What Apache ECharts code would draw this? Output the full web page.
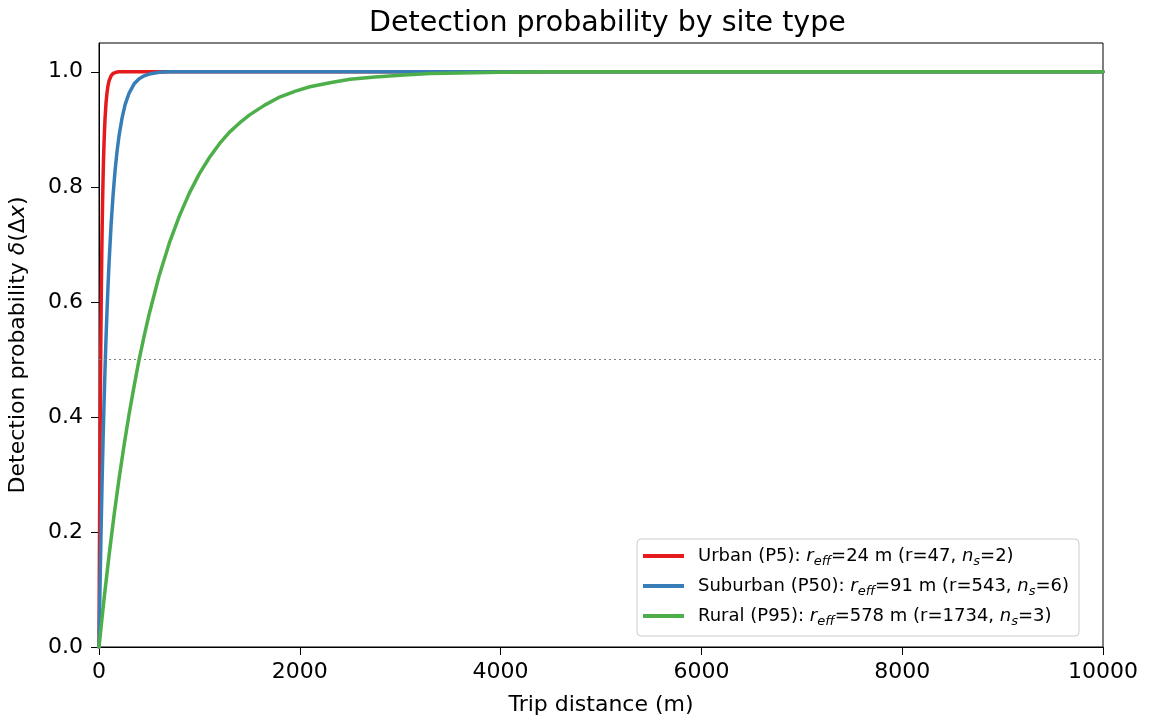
<!DOCTYPE html>
<html lang="en">
<head>
    <meta charset="UTF-8">
    <title>Detection probability by site type</title>
    <script src="https://cdn.jsdelivr.net/npm/echarts@6/dist/echarts.min.js"></script>
    <style>
        html, body { margin: 0; padding: 0; background: #fff; }
        #chart1 { width: 1149px; height: 722px; }
    </style>
</head>
<body>
<div id="chart1"></div>

<script>
    // values
    var urbanDist = [0, 3, 6, 9, 12, 15, 18, 21, 24, 28, 32, 36, 40, 45, 50, 55, 60, 70, 80, 90, 100, 120, 140, 170, 200, 10000];
    var urbanProb = [0, 0.118, 0.221, 0.313, 0.393, 0.465, 0.528, 0.583, 0.632, 0.689, 0.736, 0.777, 0.811, 0.847, 0.875, 0.899, 0.918, 0.946, 0.964, 0.976, 0.984, 0.993, 0.997, 0.999, 1.0, 1.0];

    var suburbanDist = [0, 10, 20, 30, 40, 50, 60, 70, 80, 90, 100, 120, 140, 160, 180, 200, 230, 260, 300, 350, 400, 450, 500, 600, 700, 800, 10000];
    var suburbanProb = [0, 0.104, 0.197, 0.281, 0.356, 0.423, 0.483, 0.537, 0.585, 0.628, 0.667, 0.733, 0.785, 0.828, 0.862, 0.889, 0.920, 0.943, 0.963, 0.979, 0.988, 0.993, 0.996, 0.999, 1.0, 1.0, 1.0];

    var ruralDist = [0, 50, 100, 150, 200, 250, 300, 350, 400, 450, 500, 600, 700, 800, 900, 1000, 1100, 1200, 1300, 1400, 1500, 1650, 1800, 1950, 2100, 2300, 2500, 2750, 3000, 3300, 3600, 4000, 4500, 5000, 10000];
    var ruralProb = [0, 0.083, 0.159, 0.229, 0.293, 0.351, 0.405, 0.454, 0.500, 0.541, 0.579, 0.646, 0.702, 0.749, 0.789, 0.823, 0.851, 0.875, 0.895, 0.911, 0.925, 0.942, 0.956, 0.966, 0.974, 0.981, 0.987, 0.991, 0.994, 0.997, 0.998, 0.999, 1.0, 1.0, 1.0];

    var seriesNames = ['Urban', 'Suburban', 'Rural'];
    var legendLabels = [
        '{t|Urban (P5): }{i|r}{s|eff}{t|=24 m (r=47, }{i|n}{s|s}{t|=2)}',
        '{t|Suburban (P50): }{i|r}{s|eff}{t|=91 m (r=543, }{i|n}{s|s}{t|=6)}',
        '{t|Rural (P95): }{i|r}{s|eff}{t|=578 m (r=1734, }{i|n}{s|s}{t|=3)}'
    ];
    var colors = ['#e41a1c', '#377eb8', '#4daf4a'];
    var xTicks = [0, 2000, 4000, 6000, 8000, 10000];
    var yTicks = [0, 0.2, 0.4, 0.6, 0.8, 1.0];
    var halfLevel = 0.5;

    var FONT = 'DejaVu Sans';

    function pairs(xs, ys) {
        var out = [];
        for (var i = 0; i < xs.length; i++) {
            out.push([xs[i], ys[i]]);
        }
        return out;
    }

    var allData = [
        pairs(urbanDist, urbanProb),
        pairs(suburbanDist, suburbanProb),
        pairs(ruralDist, ruralProb)
    ];

    var series = seriesNames.map(function (name, i) {
        var s = {
            name: name,
            type: 'line',
            data: allData[i],
            showSymbol: false,
            smooth: false,
            color: colors[i],
            lineStyle: { width: 3.5, color: colors[i], cap: 'round', join: 'round' },
            z: 3 + i
        };
        if (i === 0) {
            s.markLine = {
                silent: true,
                symbol: 'none',
                label: { show: false },
                lineStyle: { type: [2, 3], color: '#808080', width: 1 },
                data: [{ yAxis: halfLevel }]
            };
        }
        return s;
    });

    var ctx1 = echarts.init(document.getElementById('chart1'));

    ctx1.setOption({
        animation: false,
        backgroundColor: '#fff',
        textStyle: { fontFamily: FONT },
        title: {
            text: 'Detection probability by site type',
            left: 364,
            top: 4,
            textStyle: { fontFamily: FONT, fontSize: 28.5, fontWeight: 'normal', color: '#000' }
        },
        grid: {
            left: 99,
            right: 46,
            top: 43,
            bottom: 75,
            show: true,
            borderColor: '#000',
            borderWidth: 1,
            outerBoundsMode: 'none'
        },
        legend: {
            orient: 'vertical',
            left: 637,
            top: 539,
            padding: [8, 10, 8, 6],
            itemWidth: 41,
            itemHeight: 4,
            itemGap: 9,
            icon: 'rect',
            backgroundColor: '#fff',
            borderColor: '#cccccc',
            borderWidth: 1,
            borderRadius: 4,
            data: seriesNames,
            formatter: function (name) {
                return legendLabels[seriesNames.indexOf(name)];
            },
            textStyle: {
                fontFamily: FONT,
                fontSize: 18,
                color: '#000',
                padding: [0, 0, 0, 9],
                rich: {
                    t: { fontFamily: FONT, fontSize: 18, lineHeight: 18, verticalAlign: 'top', color: '#000' },
                    i: { fontFamily: FONT, fontSize: 18, lineHeight: 18, verticalAlign: 'top', fontStyle: 'italic', color: '#000' },
                    s: { fontFamily: FONT, fontSize: 13, lineHeight: 13, verticalAlign: 'top', fontStyle: 'italic', padding: [8, 0, 0, 0], color: '#000' }
                }
            }
        },
        xAxis: {
            type: 'value',
            min: 0,
            max: 10000,
            interval: 2000,
            name: 'Trip distance (m)',
            nameLocation: 'middle',
            nameGap: 47,
            nameTextStyle: { fontFamily: FONT, fontSize: 22, color: '#000' },
            axisLine: { show: true, onZero: false, lineStyle: { color: '#000', width: 1 } },
            axisTick: { show: true, inside: false, length: 8, lineStyle: { color: '#000', width: 1 }, customValues: xTicks },
            axisLabel: {
                fontFamily: FONT,
                fontSize: 22,
                color: '#000',
                margin: 14,
                customValues: xTicks,
                formatter: function (v) { return String(v); }
            },
            splitLine: { show: false }
        },
        yAxis: {
            type: 'value',
            min: 0,
            max: 1.05,
            name: 'Detection probability {it|δ}(Δ{it|x})',
            nameLocation: 'middle',
            nameGap: 70,
            nameTextStyle: {
                fontFamily: FONT,
                fontSize: 22,
                color: '#000',
                rich: {
                    it: { fontFamily: FONT, fontSize: 22, fontStyle: 'italic', color: '#000' }
                }
            },
            axisLine: { show: true, onZero: false, lineStyle: { color: '#000', width: 1 } },
            axisTick: { show: true, inside: false, length: 8, lineStyle: { color: '#000', width: 1 }, customValues: yTicks },
            axisLabel: {
                fontFamily: FONT,
                fontSize: 22,
                color: '#000',
                margin: 16,
                customValues: yTicks,
                formatter: function (v) { return v.toFixed(1); }
            },
            splitLine: { show: false }
        },
        series: series
    });
</script>
</body>
</html>
